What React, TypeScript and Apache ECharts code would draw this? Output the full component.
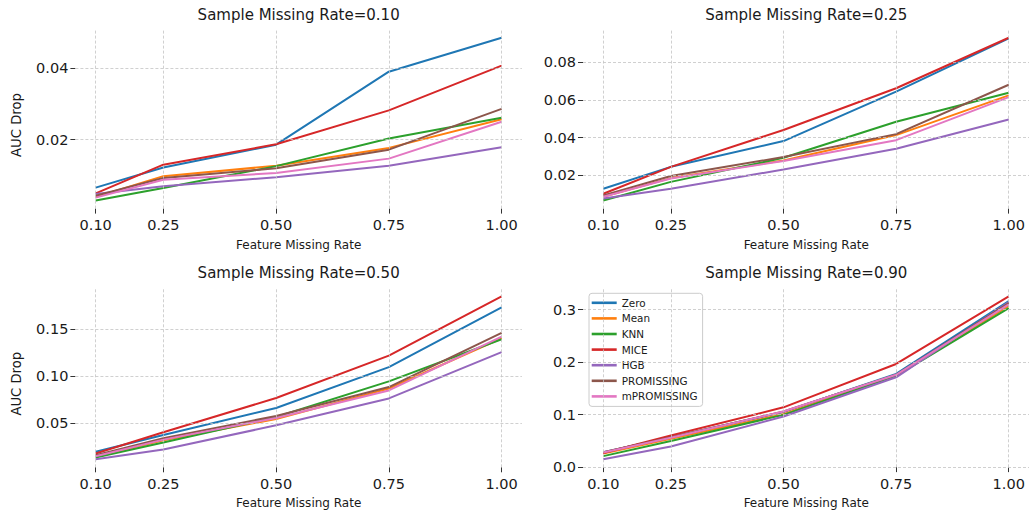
import React, { useEffect, useRef } from "react";
import * as echarts from "echarts";

// Feature missing rates on the x axis of every panel
const FEATURE_RATES = [0.1, 0.25, 0.5, 0.75, 1.0];
const METHODS = ["Zero", "Mean", "KNN", "MICE", "HGB", "PROMISSING", "mPROMISSING"];
const COLORS = ["#1f77b4", "#ff7f0e", "#2ca02c", "#d62728", "#9467bd", "#8c564b", "#e377c2"];
const SAMPLE_RATES = ["0.10", "0.25", "0.50", "0.90"];

// AUC drop per method, sample missing rate = 0.10
const zero10 = [0.0066, 0.0122, 0.0186, 0.039, 0.0485];
const mean10 = [0.004, 0.0098, 0.0127, 0.0177, 0.0257];
const knn10 = [0.003, 0.0065, 0.0126, 0.0203, 0.0261];
const mice10 = [0.005, 0.013, 0.0187, 0.0282, 0.0407];
const hgb10 = [0.0048, 0.007, 0.0095, 0.0127, 0.0179];
const prom10 = [0.0043, 0.0093, 0.012, 0.0172, 0.0286];
const mprom10 = [0.0038, 0.0088, 0.0107, 0.0147, 0.025];

// sample missing rate = 0.25
const zero25 = [0.0127, 0.0244, 0.0381, 0.0644, 0.0928];
const mean25 = [0.0085, 0.0184, 0.0278, 0.0413, 0.0624];
const knn25 = [0.0065, 0.0164, 0.0292, 0.0484, 0.0638];
const mice25 = [0.0101, 0.0244, 0.044, 0.0662, 0.0931];
const hgb25 = [0.0076, 0.0127, 0.023, 0.034, 0.0496];
const prom25 = [0.0092, 0.0195, 0.0296, 0.0418, 0.0681];
const mprom25 = [0.0085, 0.0182, 0.0275, 0.0386, 0.0615];

// sample missing rate = 0.50
const zero50 = [0.0193, 0.0373, 0.0659, 0.1094, 0.173];
const mean50 = [0.014, 0.0316, 0.0542, 0.0867, 0.1401];
const knn50 = [0.0133, 0.0292, 0.0564, 0.0942, 0.139];
const mice50 = [0.0175, 0.0401, 0.0765, 0.1217, 0.1846];
const hgb50 = [0.0115, 0.0217, 0.0475, 0.0761, 0.1253];
const prom50 = [0.0157, 0.0337, 0.0574, 0.0882, 0.1458];
const mprom50 = [0.0147, 0.0323, 0.0553, 0.0846, 0.1419];

// sample missing rate = 0.90
const zero90 = [0.0285, 0.057, 0.105, 0.1776, 0.3164];
const mean90 = [0.026, 0.054, 0.101, 0.175, 0.3075];
const knn90 = [0.021, 0.05, 0.0996, 0.174, 0.303];
const mice90 = [0.027, 0.0602, 0.114, 0.1966, 0.3253];
const hgb90 = [0.0152, 0.0393, 0.0964, 0.1712, 0.3145];
const prom90 = [0.0285, 0.057, 0.106, 0.176, 0.3126];
const mprom90 = [0.028, 0.056, 0.106, 0.176, 0.31];

const PANEL_DATA = [
  [zero10, mean10, knn10, mice10, hgb10, prom10, mprom10],
  [zero25, mean25, knn25, mice25, hgb25, prom25, mprom25],
  [zero50, mean50, knn50, mice50, hgb50, prom50, mprom50],
  [zero90, mean90, knn90, mice90, hgb90, prom90, mprom90],
];

// y tick values per panel
const Y_TICKS = [
  [0.02, 0.04],
  [0.02, 0.04, 0.06, 0.08],
  [0.05, 0.1, 0.15],
  [0.0, 0.1, 0.2, 0.3],
];
const Y_DECIMALS = [2, 2, 2, 1];

const FONT = "DejaVu Sans";
const TEXT = "#1a1a1a";
const GRID_COLOR = "#c4c4c4";

const PLOT_W = 446.5;
const PLOT_H = 179;
const COL_LEFT = [75.4, 583];
const ROW_TOP = [29.6, 288.3];

export default function App() {
  const ref = useRef<HTMLDivElement>(null);

  useEffect(() => {
    if (!ref.current) return;
    const chart = echarts.init(ref.current, null, { renderer: "svg" });

    const grids: any[] = [];
    const xAxes: any[] = [];
    const yAxes: any[] = [];
    const series: any[] = [];
    const graphics: any[] = [];

    for (let p = 0; p < 4; p++) {
      const col = p % 2;
      const row = Math.floor(p / 2);
      const left = COL_LEFT[col];
      const top = ROW_TOP[row];
      grids.push({ left, top, width: PLOT_W, height: PLOT_H, containLabel: false });

      // axis limits padded by 5% of the data span on each side
      const all = PANEL_DATA[p].flat();
      const lo = Math.min(...all);
      const hi = Math.max(...all);
      const pad = (hi - lo) * 0.05;
      const xSpan = FEATURE_RATES[FEATURE_RATES.length - 1] - FEATURE_RATES[0];

      xAxes.push({
        type: "value",
        gridIndex: p,
        min: FEATURE_RATES[0] - xSpan * 0.05,
        max: FEATURE_RATES[FEATURE_RATES.length - 1] + xSpan * 0.05,
        axisLine: { show: false },
        axisTick: { show: true, customValues: FEATURE_RATES, length: 5, lineStyle: { color: "#333", width: 1 } },
        axisLabel: {
          customValues: FEATURE_RATES,
          formatter: (v: number) => v.toFixed(2),
          fontFamily: FONT,
          fontSize: 14.5,
          color: TEXT,
          margin: 9,
        },
        splitLine: { show: false },
      });

      yAxes.push({
        type: "value",
        gridIndex: p,
        min: lo - pad,
        max: hi + pad,
        axisLine: { show: false },
        axisTick: { show: true, customValues: Y_TICKS[p], length: 5, lineStyle: { color: "#333", width: 1 } },
        axisLabel: {
          customValues: Y_TICKS[p],
          formatter: (v: number) => v.toFixed(Y_DECIMALS[p]),
          fontFamily: FONT,
          fontSize: 14.5,
          color: TEXT,
          margin: 7,
        },
        splitLine: { show: false },
      });

      // dashed grid at the tick positions, drawn beneath the method lines
      series.push({
        type: "line",
        xAxisIndex: p,
        yAxisIndex: p,
        data: [],
        z: 1,
        silent: true,
        markLine: {
          silent: true,
          symbol: "none",
          label: { show: false },
          lineStyle: { color: GRID_COLOR, width: 0.8, type: [3, 2] },
          data: [
            ...FEATURE_RATES.map((v) => ({ xAxis: v })),
            ...Y_TICKS[p].map((v) => ({ yAxis: v })),
          ],
        },
      });

      PANEL_DATA[p].forEach((vals, m) => {
        series.push({
          type: "line",
          name: METHODS[m],
          xAxisIndex: p,
          yAxisIndex: p,
          z: 2,
          data: FEATURE_RATES.map((x, i) => [x, vals[i]]),
          symbol: "none",
          lineStyle: { width: 2, color: COLORS[m] },
          itemStyle: { color: COLORS[m] },
        });
      });

      const cx = left + PLOT_W / 2;
      graphics.push({
        type: "text",
        x: cx,
        y: top - 15,
        style: {
          text: `Sample Missing Rate=${SAMPLE_RATES[p]}`,
          font: `15px '${FONT}'`,
          fill: TEXT,
          textAlign: "center",
          textVerticalAlign: "middle",
        },
      });
      graphics.push({
        type: "text",
        x: cx,
        y: top + 215,
        style: {
          text: "Feature Missing Rate",
          font: `12px '${FONT}'`,
          fill: TEXT,
          textAlign: "center",
          textVerticalAlign: "middle",
        },
      });
      if (col === 0) {
        graphics.push({
          type: "text",
          x: 16.7,
          y: top + 95.4,
          rotation: Math.PI / 2,
          style: {
            text: "AUC Drop",
            font: `13.2px '${FONT}'`,
            fill: TEXT,
            textAlign: "center",
            textVerticalAlign: "middle",
          },
        });
      }
    }

    chart.setOption({
      animation: false,
      backgroundColor: "#ffffff",
      grid: grids,
      xAxis: xAxes,
      yAxis: yAxes,
      series,
      graphic: graphics,
      legend: {
        data: METHODS,
        orient: "vertical",
        left: 589,
        top: 293.3,
        padding: [3.5, 5, 4, 2.7],
        itemGap: 3.6,
        itemWidth: 25,
        itemHeight: 2.6,
        icon: "rect",
        textStyle: { fontFamily: FONT, fontSize: 10.4, color: TEXT, lineHeight: 12 },
        backgroundColor: "rgba(255,255,255,0.8)",
        borderColor: "#cccccc",
        borderWidth: 1,
        borderRadius: 3,
      },
    });

    return () => chart.dispose();
  }, []);

  return (
    <div
      ref={ref}
      style={{ position: "fixed", left: 0, top: 0, width: 1029, height: 514 }}
    />
  );
}
